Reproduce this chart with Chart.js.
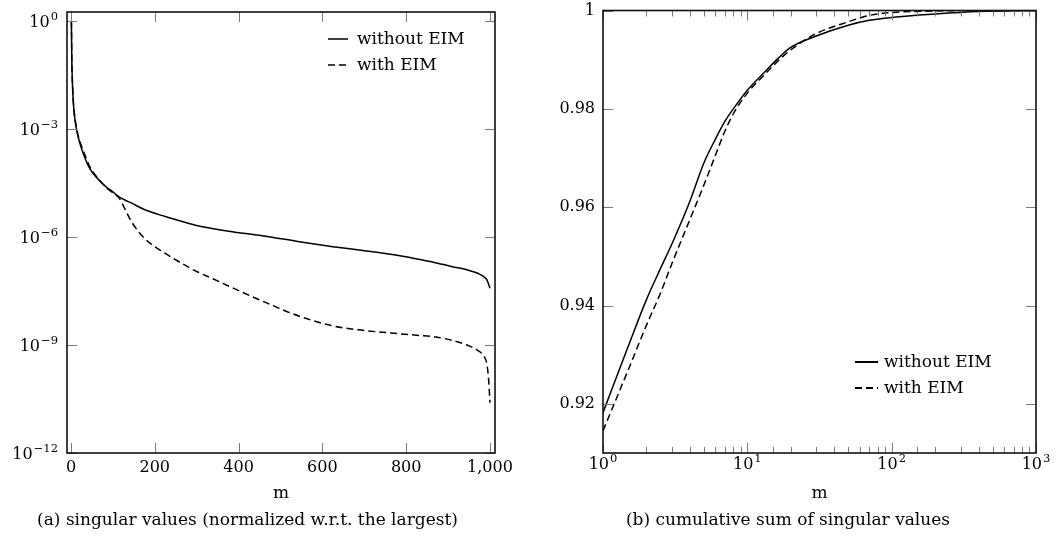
<!DOCTYPE html>
<html>
<head>
<meta charset="utf-8">
<script src="https://cdn.jsdelivr.net/npm/chart.js@4"></script>
<style>
html, body { margin: 0; padding: 0; background: #fff; }
#wrap { position: relative; width: 1064px; height: 537px; overflow: hidden; }
#chartA { position: absolute; left: 0; top: 0; }
#chartB { position: absolute; left: 540px; top: 0; }
</style>
</head>
<body>
<div id="wrap">
<canvas id="chartA" width="518" height="537"></canvas>
<canvas id="chartB" width="524" height="537"></canvas>
</div>
<script>
// ---------------------
// Data
// ---------------------

const seriesLabels = ["without EIM", "with EIM"];

// (a) singular values, normalized
const mA = [1, 2, 3, 5, 8, 13, 20, 30, 45, 65, 85, 100, 115, 130, 145, 175, 225, 270, 300, 340,
    385, 460, 545, 625, 705, 785, 830, 865, 910, 945, 975, 985, 993, 997, 1000];
const withoutEimA = [1, 7.9e-2, 2.8e-2, 7.1e-3, 2.5e-3, 1.0e-3, 4.5e-4, 2.0e-4, 7.9e-5, 4.0e-5,
    2.4e-5, 1.8e-5, 1.3e-5, 1.05e-5, 8.7e-6, 5.8e-6, 3.7e-6, 2.6e-6, 2.1e-6, 1.7e-6,
    1.4e-6, 1.07e-6, 7.4e-7, 5.4e-7, 4.1e-7, 3.0e-7, 2.4e-7, 2.0e-7, 1.5e-7, 1.23e-7,
    9.3e-8, 7.9e-8, 6.3e-8, 4.8e-8, 3.8e-8];
const withEimA = [1, 7.9e-2, 2.8e-2, 7.9e-3, 2.8e-3, 1.1e-3, 5.0e-4, 2.4e-4, 8.9e-5, 4.2e-5,
    2.3e-5, 1.7e-5, 1.2e-5, 5.6e-6, 2.6e-6, 9.3e-7, 3.5e-7, 1.7e-7, 1.1e-7, 6.8e-8,
    3.9e-8, 1.6e-8, 6.3e-9, 3.4e-9, 2.5e-9, 2.05e-9, 1.85e-9, 1.7e-9, 1.35e-9, 1.0e-9,
    6.6e-10, 5.0e-10, 2.8e-10, 1.0e-10, 2.5e-11];
const xTicksA = [0, 200, 400, 600, 800, 1000];
const yTicksA = [1e-12, 1e-9, 1e-6, 1e-3, 1];

// (b) cumulative sum of singular values
const mB = [1, 1.5, 2, 2.5, 3, 4, 5, 6, 7, 8, 10, 13, 16, 20, 30, 50, 70, 100, 200, 400, 1000];
const withoutEimB = [0.9182, 0.9318, 0.9412, 0.9475, 0.9525, 0.9612, 0.9690, 0.9738, 0.9775, 0.9800,
    0.9838, 0.9873, 0.9900, 0.9925, 0.9948, 0.9970, 0.9980, 0.9986, 0.9993, 0.9998, 1.0];
const withEimB = [0.9145, 0.9270, 0.9360, 0.9425, 0.9485, 0.9575, 0.9645, 0.9705, 0.9755, 0.9790,
    0.9832, 0.9868, 0.9895, 0.9920, 0.9953, 0.9977, 0.9990, 0.9996, 0.9999, 1.0, 1.0];
const yTicksB = [0.92, 0.94, 0.96, 0.98, 1];

// ---------------------
// Helpers
// ---------------------

const FONT = "'DejaVu Serif', serif";

function isPow10(v){
    const l = Math.log10(v);
    return Math.abs(l - Math.round(l)) < 1e-9;
}

function points(xs, ys){
    return xs.map((x, i) => ({x: x, y: ys[i]}));
}

// "10" with a raised exponent, drawn as canvas text
function drawPow(ctx, v, x, baseY, align){
    const exp = String(Math.round(Math.log10(v))).replace("-", "\u2212");
    ctx.font = "16px " + FONT;
    const wb = ctx.measureText("10").width;
    ctx.font = "11.5px " + FONT;
    const we = ctx.measureText(exp).width;
    const total = wb + 1 + we;
    const x0 = align === "right" ? x - total : x - total / 2;
    ctx.textAlign = "left";
    ctx.textBaseline = "alphabetic";
    ctx.font = "16px " + FONT;
    ctx.fillText("10", x0, baseY);
    ctx.font = "11.5px " + FONT;
    ctx.fillText(exp, x0 + wb + 1, baseY - 7);
}

Chart.defaults.font.family = FONT;
Chart.defaults.font.size = 16;
Chart.defaults.color = "#000";

// frame, inward ticks, power labels and the legend inside the plot
const boxTicks = {
    id: "boxTicks",
    afterDatasetsDraw(chart, args, opts){
        const ctx = chart.ctx;
        const a = chart.chartArea;
        const sx = chart.scales.x;
        const sy = chart.scales.y;

        ctx.save();
        ctx.strokeStyle = "#7a7a7a";
        ctx.lineWidth = 1;
        ctx.beginPath();
        sx.ticks.forEach(t => {
            const px = Math.round(sx.getPixelForValue(t.value)) + 0.5;
            const len = (sx.type === "logarithmic" && !isPow10(t.value)) ? 6 : 10;
            ctx.moveTo(px, a.bottom); ctx.lineTo(px, a.bottom - len);
            ctx.moveTo(px, a.top); ctx.lineTo(px, a.top + len);
        });
        sy.ticks.forEach(t => {
            const py = Math.round(sy.getPixelForValue(t.value)) + 0.5;
            ctx.moveTo(a.left, py); ctx.lineTo(a.left + 10, py);
            ctx.moveTo(a.right, py); ctx.lineTo(a.right - 10, py);
        });
        ctx.stroke();

        ctx.strokeStyle = "#111";
        ctx.lineWidth = 1.6;
        ctx.strokeRect(a.left, a.top, a.right - a.left, a.bottom - a.top);

        // power-of-ten tick labels
        ctx.fillStyle = "#000";
        if (opts.powY) {
            sy.ticks.forEach(t => {
                drawPow(ctx, t.value, a.left - 9, sy.getPixelForValue(t.value) + 6, "right");
            });
        }
        if (opts.powX) {
            sx.ticks.filter(t => isPow10(t.value)).forEach(t => {
                drawPow(ctx, t.value, sx.getPixelForValue(t.value), a.bottom + 16, "center");
            });
        }

        // legend
        ctx.font = opts.fontSize + "px " + FONT;
        ctx.textAlign = "left";
        ctx.textBaseline = "middle";
        chart.data.datasets.forEach((ds, i) => {
            const y = Math.round(a.top + opts.top + i * opts.row);
            const x0 = a.right - opts.right;
            ctx.strokeStyle = "#000";
            ctx.lineWidth = opts.lineWidth;
            ctx.setLineDash(ds.borderDash || []);
            ctx.beginPath();
            ctx.moveTo(x0, y);
            ctx.lineTo(x0 + opts.sample, y);
            ctx.stroke();
            ctx.setLineDash([]);
            ctx.fillText(ds.label, x0 + opts.sample + opts.gap, y + 1);
        });
        ctx.restore();
    }
};

function lineSet(label, data, dashed){
    return {
        label: label,
        data: data,
        borderColor: "#000",
        borderWidth: 1.5,
        borderDash: dashed ? [7, 4] : [],
        pointRadius: 0,
        cubicInterpolationMode: "monotone",
        fill: false
    };
}

function noPad(s){
    s.paddingTop = 0; s.paddingBottom = 0; s.paddingLeft = 0; s.paddingRight = 0;
}

// ---------------------
// Chart (a)
// ---------------------

new Chart(document.getElementById("chartA"), {
    type: "line",
    data: {
        datasets: [
            lineSet(seriesLabels[0], points(mA, withoutEimA), false),
            lineSet(seriesLabels[1], points(mA, withEimA), true)
        ]
    },
    options: {
        responsive: false,
        animation: false,
        layout: { padding: { top: 12, right: 23, left: 0, bottom: 0 } },
        scales: {
            x: {
                type: "linear",
                min: -9.5,
                max: 1012,
                afterBuildTicks: s => { s.ticks = xTicksA.map(v => ({value: v})); },
                afterFit: s => { s.height = 53.6; noPad(s); },
                grid: { display: false, drawTicks: false, tickLength: 0 },
                border: { display: false },
                ticks: { padding: 5, maxRotation: 0, autoSkip: false,
                    callback: v => v.toLocaleString("en-US") },
                title: { display: true, text: "m", font: { size: 17 }, padding: { top: 0, bottom: 3 } }
            },
            y: {
                type: "logarithmic",
                min: 1e-12,
                max: 1.78,
                afterBuildTicks: s => { s.ticks = yTicksA.map(v => ({value: v})); },
                afterFit: s => { s.width = 67; noPad(s); },
                grid: { display: false, drawTicks: false, tickLength: 0 },
                border: { display: false },
                ticks: { display: false }
            }
        },
        plugins: {
            legend: { display: false },
            tooltip: { enabled: false },
            title: {
                display: true,
                position: "bottom",
                text: "(a) singular values (normalized w.r.t. the largest)",
                font: { size: 17, weight: "normal" },
                padding: { top: 4, bottom: 6 }
            },
            boxTicks: { powY: true, right: 167, sample: 20, gap: 9, top: 27, row: 26, lineWidth: 1.5, fontSize: 17 }
        }
    },
    plugins: [boxTicks]
});

// ---------------------
// Chart (b)
// ---------------------

new Chart(document.getElementById("chartB"), {
    type: "line",
    data: {
        datasets: [
            lineSet(seriesLabels[0], points(mB, withoutEimB), false),
            lineSet(seriesLabels[1], points(mB, withEimB), true)
        ]
    },
    options: {
        responsive: false,
        animation: false,
        layout: { padding: { top: 10.5, right: 28, left: 0, bottom: 0 } },
        scales: {
            x: {
                type: "logarithmic",
                min: 1,
                max: 1000,
                afterFit: s => { s.height = 53.6; noPad(s); },
                grid: { display: false, drawTicks: false, tickLength: 0 },
                border: { display: false },
                ticks: { display: false, autoSkip: false },
                title: { display: true, text: "m", font: { size: 17 }, padding: { top: 0, bottom: 3 } }
            },
            y: {
                type: "linear",
                min: 0.91,
                max: 1,
                afterBuildTicks: s => { s.ticks = yTicksB.map(v => ({value: v})); },
                afterFit: s => { s.width = 63; noPad(s); },
                grid: { display: false, drawTicks: false, tickLength: 0 },
                border: { display: false },
                ticks: { padding: 8, autoSkip: false,
                    callback: v => v === 1 ? "1" : v.toFixed(2) }
            }
        },
        plugins: {
            legend: { display: false },
            tooltip: { enabled: false },
            title: {
                display: true,
                position: "bottom",
                text: "(b) cumulative sum of singular values",
                font: { size: 17, weight: "normal" },
                padding: { top: 4, bottom: 6 }
            },
            boxTicks: { powX: true, right: 181, sample: 23, gap: 6, top: 351, row: 26, lineWidth: 2, fontSize: 17 }
        }
    },
    plugins: [boxTicks]
});
</script>
</body>
</html>
